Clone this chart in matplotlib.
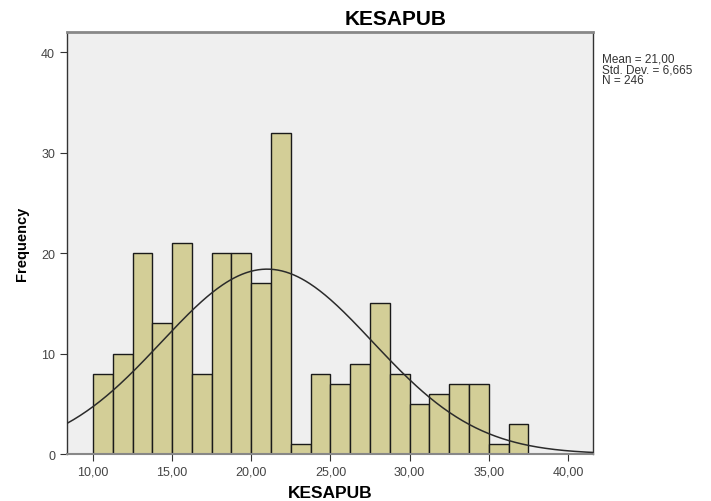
import numpy as np
import matplotlib
matplotlib.use("Agg")
import matplotlib.pyplot as plt

plt.rcParams['font.family'] = ['Liberation Sans', 'DejaVu Sans']

bin_start = 10.0
bin_width = 1.25
counts = [8, 10, 20, 13, 21, 8, 20, 20, 17, 32, 1, 8, 7, 9, 15, 8, 5, 6, 7, 7, 1, 3]
mean = 21.00
sd = 6.665
n = 246
xticks = [10, 15, 20, 25, 30, 35, 40]
xticklabels = ["10,00", "15,00", "20,00", "25,00", "30,00", "35,00", "40,00"]
yticks = [0, 10, 20, 30, 40]

fig = plt.figure(figsize=(7.11, 5.02), dpi=100)
ax = fig.add_axes([0.0942, 0.0936, 0.7398, 0.8404])
ax.set_facecolor('#EFEFEF')

edges = bin_start + bin_width * np.arange(len(counts))
ax.bar(edges, counts, width=bin_width, align='edge', color='#D3CE97',
       edgecolor='#1a1a1a', linewidth=1.0, zorder=2)

xmin, xmax = 8.36, 41.58
xs = np.linspace(xmin, xmax, 400)
ys = n * bin_width / (sd * np.sqrt(2 * np.pi)) * np.exp(-0.5 * ((xs - mean) / sd) ** 2)
ax.plot(xs, ys, color='#2b2b2b', linewidth=1.1, zorder=3)

ax.set_xlim(xmin, xmax)
ax.set_ylim(0, 42.0)
ax.set_xticks(xticks)
ax.set_xticklabels(xticklabels)
ax.set_yticks(yticks)
ax.tick_params(axis='both', labelsize=9, colors='#333333', length=5, width=0.8)
for lbl in ax.get_xticklabels() + ax.get_yticklabels():
    lbl.set_color('#444444')

for s in ['left', 'right']:
    ax.spines[s].set_color('#333333')
    ax.spines[s].set_linewidth(1.0)
ax.spines['top'].set_color('#888888')
ax.spines['top'].set_linewidth(2.0)
ax.spines['bottom'].set_color('#888888')
ax.spines['bottom'].set_linewidth(1.5)

fig.text(0.557, 0.962, 'KESAPUB', fontsize=15, fontweight='bold',
         ha='center', va='center')
fig.text(0.465, 0.016, 'KESAPUB', fontsize=12.5, fontweight='bold',
         ha='center', va='center')
fig.text(0.031, 0.514, 'Frequency', fontsize=10.5, fontweight='bold',
         ha='center', va='center', rotation=90)

fig.text(0.846, 0.893, "Mean = 21,00\nStd. Dev. = 6,665\nN = 246",
         fontsize=8.5, va='top', ha='left', color='#333333', linespacing=0.85)

fig.savefig('out.png', dpi=100)
